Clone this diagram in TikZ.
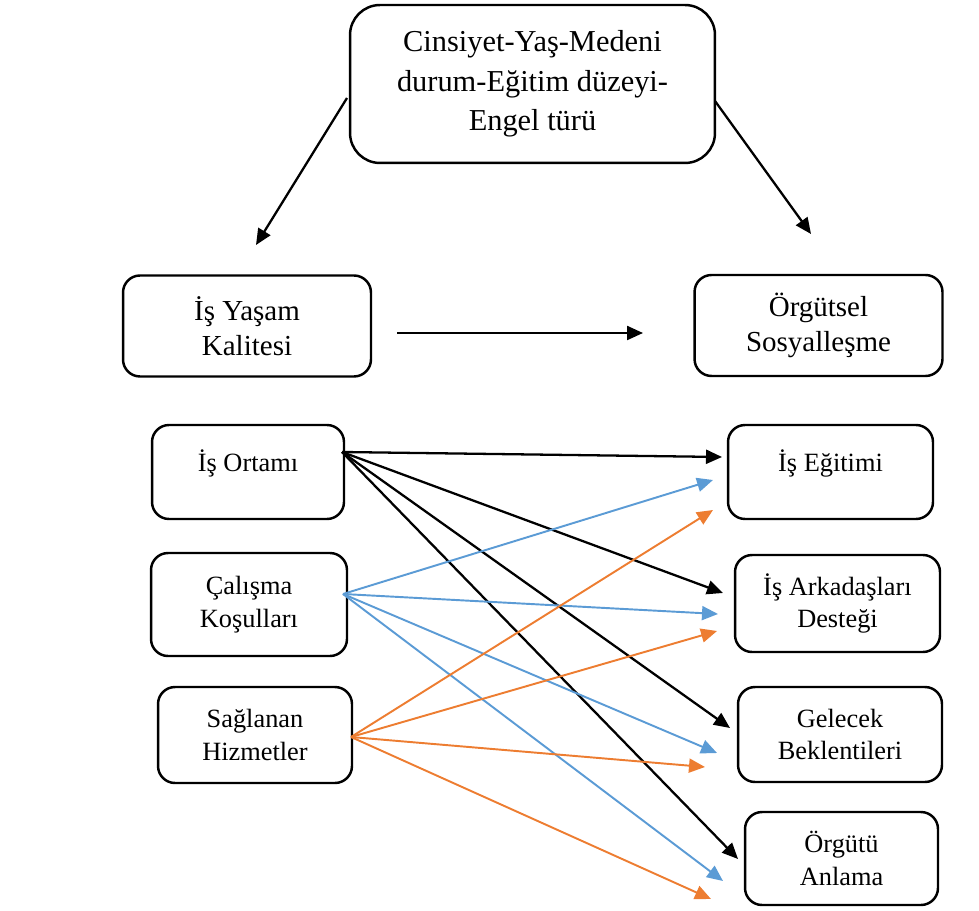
\documentclass[tikz,border=0pt]{standalone}
\usepackage{fontspec}
\setmainfont{Liberation Serif}
\usetikzlibrary{arrows.meta,positioning}
\definecolor{lineblue}{HTML}{5B9BD5}
\definecolor{lineorange}{HTML}{ED7D31}

\begin{document}
\begin{tikzpicture}[x=0.02cm,y=-0.02cm,>={Triangle[length=0.32cm,width=0.28cm]},
box/.style={draw,line width=1.4pt,align=center,inner sep=0pt},
big node/.style={box,rounded corners=0.6cm,font=\fontsize{17.3}{22.4}\selectfont},
mid node/.style={box,rounded corners=0.34cm,minimum width=4.96cm,minimum height=2.02cm,font=\fontsize{16.5}{20}\selectfont},
small node/.style={box,rounded corners=0.34cm,font=\fontsize{15}{18.7}\selectfont},
one line/.style={text height=11pt,text depth=12pt},
black arrow/.style={->,line width=1.3pt},
blue arrow/.style={->,line width=1.1pt,lineblue},
orange arrow/.style={->,line width=1.1pt,lineorange}]

\useasboundingbox (0,0) rectangle (979,911);

\node[big node,minimum width=7.3cm,minimum height=3.16cm] (demo) at (532.5,84) {Cinsiyet-Yaş-Medeni\\durum-Eğitim düzeyi-\\Engel türü};
\node[mid node] (iyk) at (247,326) {İş Yaşam\\Kalitesi};
\node[mid node] (os) at (818.5,325.5) {Örgütsel\\Sosyalleşme};

\node[small node,one line,minimum width=3.84cm,minimum height=1.88cm] (ortam) at (248,472) {İş Ortamı};
\node[small node,minimum width=3.92cm,minimum height=2.06cm] (kosul) at (249,604.5) {Çalışma\\Koşulları};
\node[small node,minimum width=3.88cm,minimum height=1.92cm] (hizmet) at (255,735) {Sağlanan\\Hizmetler};

\node[small node,one line,minimum width=4.1cm,minimum height=1.88cm] (egitim) at (830.5,472) {İş Eğitimi};
\node[small node,minimum width=4.1cm,minimum height=1.94cm] (destek) at (837.5,603.5) {İş Arkadaşları\\Desteği};
\node[small node,minimum width=4.08cm,minimum height=1.9cm] (beklenti) at (840,734.5) {Gelecek\\Beklentileri};
\node[small node,minimum width=3.86cm,minimum height=1.86cm] (anlama) at (841.5,858.5) {Örgütü\\Anlama};

% free ends
\coordinate (demoL) at (347,98);
\coordinate (demoR) at (715,101);
\coordinate (iykT) at (256,245);
\coordinate (osT) at (811,234);
\coordinate (iykR) at (397,333);
\coordinate (osL) at (643,333);

\coordinate (ortamS) at (342,452);
\coordinate (kosulS) at (343,594);
\coordinate (hizmetS) at (351,737);

\coordinate (egitimK) at (722,457);
\coordinate (destekK) at (723,593);
\coordinate (beklentiK) at (730,728);
\coordinate (anlamaK) at (738,859);

\coordinate (egitimM) at (713,480);
\coordinate (destekM) at (718,614);
\coordinate (beklentiM) at (717,753);
\coordinate (anlamaM) at (723,881);

\coordinate (egitimT) at (713,510);
\coordinate (destekT) at (717,631);
\coordinate (beklentiT) at (705,767);
\coordinate (anlamaT) at (711,899);

\path[black arrow]
(demoL) edge (iykT)
(demoR) edge (osT)
(iykR) edge (osL);

\path[black arrow]
(ortamS) edge (egitimK)
(ortamS) edge (destekK)
(ortamS) edge (beklentiK)
(ortamS) edge (anlamaK);

\path[blue arrow]
(kosulS) edge (egitimM)
(kosulS) edge (destekM)
(kosulS) edge (beklentiM)
(kosulS) edge (anlamaM);

\path[orange arrow]
(hizmetS) edge (egitimT)
(hizmetS) edge (destekT)
(hizmetS) edge (beklentiT)
(hizmetS) edge (anlamaT);
\end{tikzpicture}
\end{document}
